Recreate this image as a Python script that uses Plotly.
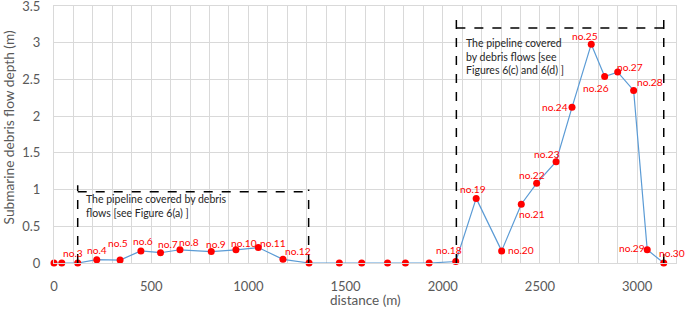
import plotly.graph_objects as go

# ---- data ----
distance_m = [0, 40, 122, 220, 340, 447, 548, 648, 809, 936, 1051, 1178, 1312,
              1468, 1583, 1716, 1808, 1930, 2067, 2172, 2303, 2404, 2483, 2583,
              2665, 2764, 2833, 2900, 2982, 3052, 3137]
depth_m = [0, 0, 0, 0.045, 0.04, 0.165, 0.14, 0.18, 0.155, 0.18, 0.21, 0.05, 0,
           0, 0, 0, 0, 0, 0.02, 0.88, 0.165, 0.80, 1.085, 1.38,
           2.12, 2.98, 2.54, 2.60, 2.35, 0.18, 0]
point_labels = ["", "", "no.3", "no.4", "no.5", "no.6", "no.7", "no.8", "no.9",
                "no.10", "no.11", "no.12", "", "", "", "", "", "", "no.18",
                "no.19", "no.20", "no.21", "no.22", "no.23", "no.24", "no.25",
                "no.26", "no.27", "no.28", "no.29", "no.30"]
covered_start = [122, 2070]
covered_end = [1310, 3137]
covered_text = ["The pipeline covered by debris<br>flows [see Figure 6(a) ]",
                "The pipeline covered<br>by debris flows [see<br>Figures 6(c) and 6(d) ]"]
x_ticks = [0, 500, 1000, 1500, 2000, 2500, 3000]
y_ticks = [0, 0.5, 1, 1.5, 2, 2.5, 3, 3.5]

# ---- styles ----
FONT = "Lato"
GRID = "#d9d9d9"
TICKC = "#595959"
# label offsets in pixels (dx right, dy down) per labelled point
label_offsets = {
    "no.3": (-5, -10), "no.4": (0, -10), "no.5": (-2, -17), "no.6": (2, -10),
    "no.7": (7, -9), "no.8": (9, -8), "no.9": (5, -8), "no.10": (8, -7),
    "no.11": (15, -5), "no.12": (15, -8), "no.18": (-7, -12), "no.19": (-3, -9),
    "no.20": (19, -1), "no.21": (11, 10), "no.22": (-5, -8), "no.23": (-9, -8),
    "no.24": (-17, 0), "no.25": (-6, -8), "no.26": (-9, 12), "no.27": (12, -5),
    "no.28": (16, -8), "no.29": (-15, -2), "no.30": (8, -10),
}
box_top = [0.97, 3.20]
box_left_ext = [1.06, 3.32]
box_right_ext = [1.0, 3.32]
box_text_y = [0.77, 2.81]
box_text_shift = [6, 8]

fig = go.Figure()
fig.add_trace(go.Scatter(
    x=distance_m, y=depth_m, mode="lines+markers",
    line=dict(color="#5B9BD5", width=1.2),
    marker=dict(color="#FF0000", size=7),
    showlegend=False, hoverinfo="skip", cliponaxis=False))

ann = []
for x, y, t in zip(distance_m, depth_m, point_labels):
    if not t:
        continue
    dx, dy = label_offsets[t]
    ann.append(dict(x=x, y=y, text=t, showarrow=False, xshift=dx, yshift=-dy,
                    font=dict(family=FONT, size=10.2, color="#FF0000")))

shapes = []
dash = dict(color="#000000", width=1.5, dash="dash")
for i in range(len(covered_start)):
    s, e = covered_start[i], covered_end[i]
    shapes.append(dict(type="line", x0=s, x1=s, y0=0, y1=box_left_ext[i], line=dash))
    shapes.append(dict(type="line", x0=e, x1=e, y0=0, y1=box_right_ext[i], line=dash))
    shapes.append(dict(type="line", x0=s, x1=e, y0=box_top[i], y1=box_top[i], line=dash))
    ann.append(dict(x=s, y=box_text_y[i], xanchor="left", yanchor="middle", align="left",
                    xshift=box_text_shift[i], text=covered_text[i], showarrow=False,
                    font=dict(family=FONT, size=10.5, color="#262626")))

ann.append(dict(xref="paper", yref="paper", x=-0.073, y=0.526, textangle=-90,
                text="Submarine debris flow depth (m)", showarrow=False,
                xanchor="center", yanchor="middle",
                font=dict(family=FONT, size=13.7, color=TICKC)))
ann.append(dict(xref="paper", yref="paper", x=0.5, y=-0.143,
                text="distance (m)", showarrow=False,
                xanchor="center", yanchor="middle",
                font=dict(family=FONT, size=13.5, color=TICKC)))

fig.update_layout(
    width=685, height=309,
    margin=dict(l=54, r=9, t=6, b=46),
    paper_bgcolor="white", plot_bgcolor="white",
    font=dict(family=FONT, color=TICKC),
    annotations=ann, shapes=shapes,
    xaxis=dict(range=[0, 3200], tickvals=x_ticks, showgrid=True, gridcolor=GRID,
               gridwidth=1, minor=dict(dtick=100, showgrid=True, gridcolor=GRID, gridwidth=1),
               showline=True, linecolor=GRID, mirror=True, zeroline=False,
               ticks="", ticklabelstandoff=11, automargin=False,
               ticklabeloverflow="allow",
               tickfont=dict(family=FONT, size=13, color=TICKC)),
    yaxis=dict(range=[0, 3.5], tickvals=y_ticks, ticktext=[f"{v:g}" for v in y_ticks],
               showgrid=True, gridcolor=GRID, gridwidth=1,
               showline=True, linecolor=GRID, mirror=True, zeroline=False,
               ticks="", ticklabelstandoff=10, automargin=False,
               ticklabeloverflow="allow",
               tickfont=dict(family=FONT, size=13, color=TICKC)),
)

fig.write_html("out.html", config={"displayModeBar": False},
               post_script="document.body.style.margin='0';document.body.style.padding='0';")
